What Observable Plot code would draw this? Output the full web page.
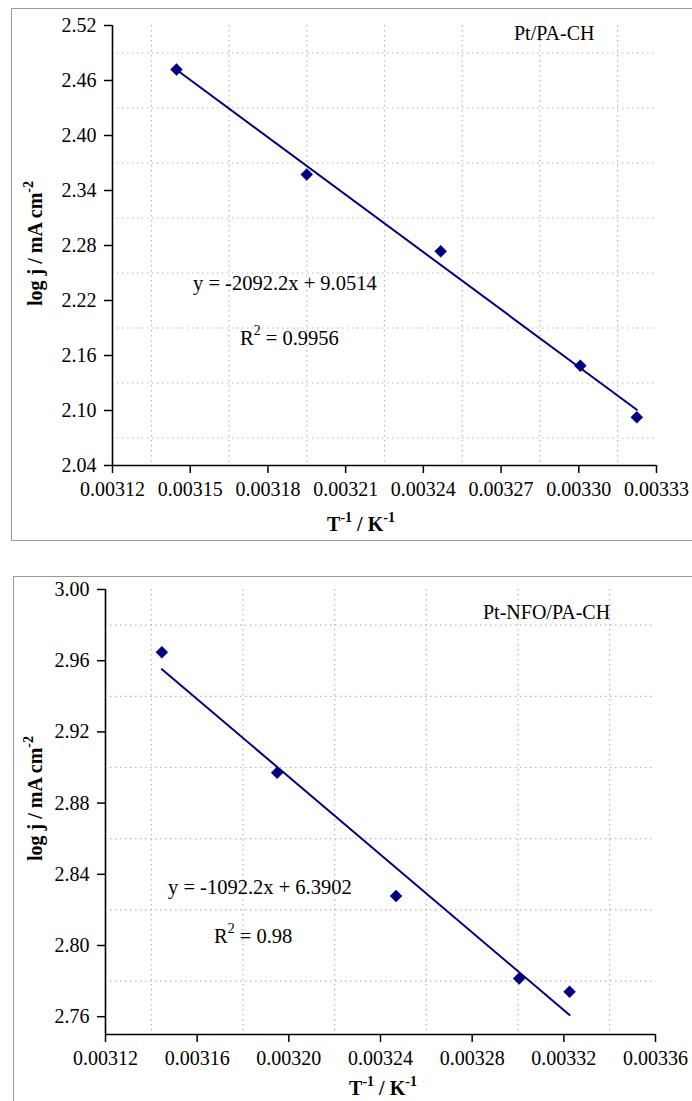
<!DOCTYPE html>
<html>
<head>
<meta charset="utf-8">
<script src="https://cdn.jsdelivr.net/npm/d3@7"></script>
<script src="https://cdn.jsdelivr.net/npm/@observablehq/plot@0.6"></script>
<style>
  html, body { margin: 0; padding: 0; background: #fff; overflow: hidden; }
  body { width: 692px; height: 1101px; position: relative; font-family: "Liberation Serif", "Times New Roman", serif; }
  .frame { position: absolute; border: 1.5px solid #9a9a9a; box-sizing: border-box; }
  .chart { position: absolute; left: 0; }
  .chart svg { overflow: visible; font-family: "Liberation Serif", "Times New Roman", serif !important; font-size: 20px !important; }
  .chart svg g[aria-label*="axis"] text,
  .chart svg g[aria-label*="axis"] { font-family: "Liberation Serif", "Times New Roman", serif !important; font-size: 20px !important; fill: #000; }
  .chart g[aria-label*="axis tick"] path, .chart g[aria-label*="axis"] .tick line { stroke-width: 1.5; stroke: #000; }
</style>
</head>
<body>
<div class="frame" style="left:11px; top:8px; width:700px; height:533px;"></div>
<div class="frame" style="left:13px; top:576px; width:700px; height:540px;"></div>
<div class="chart" id="top" style="top:0px;"></div>
<div class="chart" id="bottom" style="top:545px;"></div>
<script>
// ---------- data ----------
const invT_top = [0.0031447, 0.0031950, 0.0032467, 0.0033006, 0.0033224];
const logj_top = [2.4719, 2.3574, 2.2736, 2.1489, 2.0926];
const invT_bottom = [0.0031446, 0.0031949, 0.0032468, 0.0033005, 0.0033225];
const logj_bottom = [2.9647, 2.8971, 2.8278, 2.7815, 2.7740];

const xTicks_top = [0.00312, 0.00315, 0.00318, 0.00321, 0.00324, 0.00327, 0.00330, 0.00333];
const yTicks_top = [2.04, 2.10, 2.16, 2.22, 2.28, 2.34, 2.40, 2.46, 2.52];
const xGrid_top = [0.003135, 0.003165, 0.003195, 0.003225, 0.003255, 0.003285, 0.003315];
const yGrid_top = [2.07, 2.13, 2.19, 2.25, 2.31, 2.37, 2.43, 2.49];

const xTicks_bottom = [0.00312, 0.00316, 0.00320, 0.00324, 0.00328, 0.00332, 0.00336];
const yTicks_bottom = [2.76, 2.80, 2.84, 2.88, 2.92, 2.96, 3.00];
const xGrid_bottom = [0.00314, 0.00318, 0.00322, 0.00326, 0.00330, 0.00334];
const yGrid_bottom = [2.78, 2.82, 2.86, 2.90, 2.94, 2.98];

const label_top = "Pt/PA-CH";
const label_bottom = "Pt-NFO/PA-CH";
const eq_top = "y = -2092.2x + 9.0514";
const r2_top = "0.9956";
const eq_bottom = "y = -1092.2x + 6.3902";
const r2_bottom = "0.98";

const navy = "#000080";
const ff = "'Liberation Serif', 'Times New Roman', serif";

function makeChart(cfg) {
  const data = cfg.xs.map((x, i) => ({x, y: cfg.ys[i]}));
  const plot = Plot.plot({
    width: 692,
    height: cfg.height,
    marginLeft: cfg.ml,
    marginRight: cfg.mr,
    marginTop: cfg.mt,
    marginBottom: cfg.mb,
    style: {fontFamily: ff, fontSize: "20px", color: "#000", background: "transparent", overflow: "visible"},
    x: {domain: cfg.xDomain, ticks: cfg.xTicks, tickFormat: d3.format(".5f"), tickSize: 8, tickPadding: 8, label: null},
    y: {domain: cfg.yDomain, ticks: cfg.yTicks, tickFormat: d3.format(".2f"), tickSize: 8, tickPadding: 8, label: null},
    marks: [
      Plot.ruleX(cfg.xGrid, {stroke: "#b8b8b8", strokeWidth: 1.2, strokeDasharray: "1.5,3.5"}),
      Plot.ruleY(cfg.yGrid, {stroke: "#b8b8b8", strokeWidth: 1.2, strokeDasharray: "1.5,3.5"}),
      Plot.ruleY([cfg.yDomain[0]], {stroke: "#000", strokeWidth: 1.6}),
      Plot.ruleX([cfg.xDomain[0]], {stroke: "#000", strokeWidth: 1.6}),
      Plot.linearRegressionY(data, {x: "x", y: "y", ci: 0, stroke: navy, strokeWidth: 2}),
      Plot.dot(data, {x: "x", y: "y", symbol: "diamond2", r: 5.4, fill: navy, stroke: navy, strokeWidth: 0.5})
    ]
  });
  const svg = d3.select(plot);
  // force axis tick label font
  svg.selectAll("g[aria-label*='axis'] text")
    .attr("font-family", ff).attr("font-size", 20).style("font-family", ff).style("font-size", "20px");
  // y-axis title
  const yt = svg.append("text")
    .attr("transform", `translate(${cfg.yTitle[0]},${cfg.yTitle[1]}) rotate(-90)`)
    .attr("font-family", ff).attr("font-size", 20).attr("font-weight", "bold").attr("fill", "#000")
    .attr("text-anchor", "start");
  yt.append("tspan").text("log j / mA cm");
  yt.append("tspan").attr("dy", -9).attr("font-size", 14).text("-2");
  // x-axis title
  const xt = svg.append("text")
    .attr("x", cfg.xTitle[0]).attr("y", cfg.xTitle[1])
    .attr("font-family", ff).attr("font-size", 20).attr("font-weight", "bold").attr("fill", "#000")
    .attr("text-anchor", "middle");
  xt.append("tspan").text("T");
  xt.append("tspan").attr("dy", -9).attr("font-size", 14).text("-1");
  xt.append("tspan").attr("dy", 9).text(" / K");
  xt.append("tspan").attr("dy", -9).attr("font-size", 14).text("-1");
  // sample label
  svg.append("text").attr("x", cfg.name[0]).attr("y", cfg.name[1]).attr("text-anchor", "start")
    .attr("font-family", ff).attr("font-size", 20).attr("fill", "#000").text(cfg.label);
  // equation
  svg.append("text").attr("x", cfg.eq[0]).attr("y", cfg.eq[1]).attr("text-anchor", "start")
    .attr("font-family", ff).attr("font-size", 20.5).attr("fill", "#000").text(cfg.eqText);
  const r = svg.append("text").attr("x", cfg.r2[0]).attr("y", cfg.r2[1]).attr("text-anchor", "start")
    .attr("font-family", ff).attr("font-size", 20.5).attr("fill", "#000");
  r.append("tspan").text("R");
  r.append("tspan").attr("dy", -10).attr("font-size", 14).text("2");
  r.append("tspan").attr("dy", 10).text(" = " + cfg.r2Text);
  return plot;
}

document.getElementById("top").appendChild(makeChart({
  xs: invT_top, ys: logj_top,
  height: 540, ml: 112, mr: 36, mt: 25, mb: 75,
  xDomain: [0.00312, 0.00333], yDomain: [2.04, 2.52],
  xTicks: xTicks_top, yTicks: yTicks_top, xGrid: xGrid_top, yGrid: yGrid_top,
  yTitle: [42, 306], xTitle: [361, 531],
  name: [514, 40], label: label_top,
  eq: [193, 290], eqText: eq_top,
  r2: [240, 345], r2Text: r2_top
}));

document.getElementById("bottom").appendChild(makeChart({
  xs: invT_bottom, ys: logj_bottom,
  height: 556, ml: 105, mr: 37, mt: 44, mb: 67,
  xDomain: [0.00312, 0.00336], yDomain: [2.75, 3.00],
  xTicks: xTicks_bottom, yTicks: yTicks_bottom, xGrid: xGrid_bottom, yGrid: yGrid_bottom,
  yTitle: [42, 316], xTitle: [383, 550],
  name: [483, 74], label: label_bottom,
  eq: [168, 349], eqText: eq_bottom,
  r2: [214, 398], r2Text: r2_bottom
}));
</script>
</body>
</html>
